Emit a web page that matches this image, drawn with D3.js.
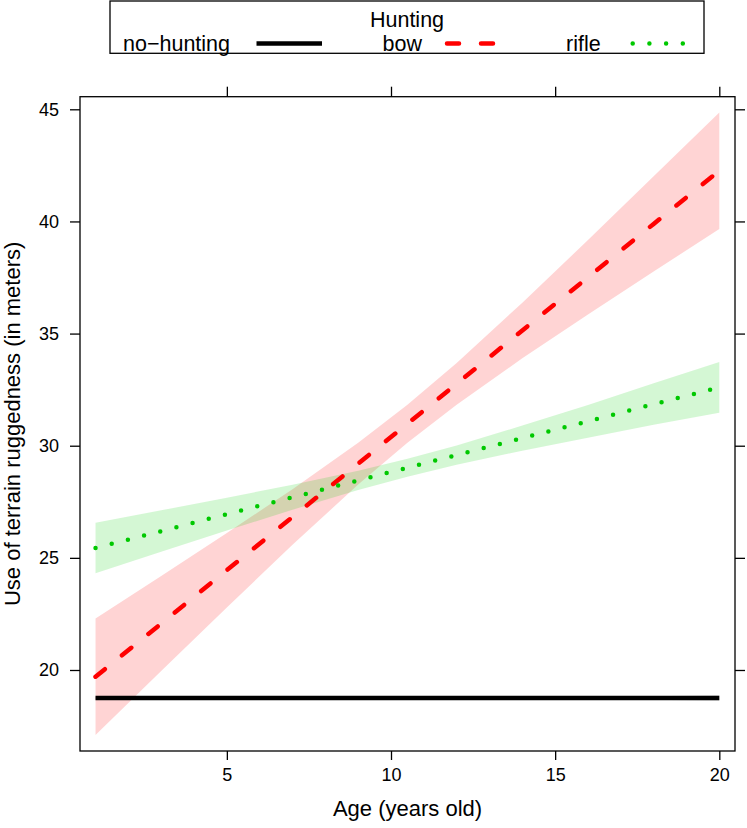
<!DOCTYPE html>
<html>
<head>
<meta charset="utf-8">
<script src="https://cdn.jsdelivr.net/npm/d3@7/dist/d3.min.js"></script>
<style>
  html, body { margin: 0; padding: 0; background: #fff; }
  svg { display: block; }
  text { font-family: "Liberation Sans", Arial, Helvetica, sans-serif; fill: #000; }
</style>
</head>
<body>
<svg id="chart" width="747" height="828"></svg>
<script>
// ---------------- data ----------------
const ages = [1, 3, 5, 7, 9, 10.5, 12, 14, 16, 18, 20];

const noHuntFit   = [18.75, 18.75, 18.75, 18.75, 18.75, 18.75, 18.75, 18.75, 18.75, 18.75, 18.75];
const noHuntLower = [18.70, 18.71, 18.72, 18.73, 18.73, 18.73, 18.73, 18.72, 18.70, 18.67, 18.63];
const noHuntUpper = [18.80, 18.79, 18.78, 18.77, 18.77, 18.77, 18.77, 18.78, 18.80, 18.83, 18.87];

const bowFit   = [19.70, 22.07, 24.45, 26.82, 29.20, 30.98, 32.76, 35.14, 37.51, 39.89, 42.26];
const bowLower = [17.10, 19.95, 22.79, 25.58, 28.27, 30.13, 31.83, 33.90, 35.85, 37.77, 39.66];
const bowUpper = [22.30, 24.19, 26.11, 28.06, 30.13, 31.83, 33.69, 36.38, 39.17, 42.01, 44.86];

const rifleFit   = [25.44, 26.19, 26.95, 27.70, 28.45, 29.02, 29.58, 30.34, 31.09, 31.85, 32.60];
const rifleLower = [24.31, 25.27, 26.22, 27.14, 28.02, 28.62, 29.15, 29.78, 30.36, 30.93, 31.47];
const rifleUpper = [26.57, 27.12, 27.68, 28.26, 28.88, 29.42, 30.01, 30.90, 31.82, 32.78, 33.73];

const xTicks = [5, 10, 15, 20];
const yTicks = [20, 25, 30, 35, 40, 45];

const legendTitle = "Hunting";
const groupLabels = ["no\u2212hunting", "bow", "rifle"];
const xTitle = "Age (years old)";
const yTitle = "Use of terrain ruggedness (in meters)";

// ---------------- layout ----------------
const svg = d3.select("#chart");
const L = 80, R = 735, T = 96.7, B = 751;
const x = d3.scaleLinear().domain([0.527, 20.478]).range([L, R]);
const y = d3.scaleLinear().domain([16.388, 45.562]).range([B, T]);

const styles = [
  { color: "#000000", band: "#808080", bandOp: 0.25, width: 4.5, dash: null, cap: "butt" },
  { color: "#FF0000", band: "#FF0000", bandOp: 0.17, width: 4.5, dash: "12,22", cap: "round" },
  { color: "#00C800", band: "#00CD00", bandOp: 0.17, width: 4.5, dash: "0,16.7", cap: "round" }
];

const series = [
  { fit: noHuntFit, lo: noHuntLower, hi: noHuntUpper },
  { fit: bowFit, lo: bowLower, hi: bowUpper },
  { fit: rifleFit, lo: rifleLower, hi: rifleUpper }
];

// bands
const area = d3.area().x((d) => x(d.a)).y0((d) => y(d.lo)).y1((d) => y(d.hi));
const line = d3.line().x((d) => x(d.a)).y((d) => y(d.v));

const gBands = svg.append("g");
series.forEach((s, i) => {
  const pts = ages.map((a, k) => ({ a, lo: s.lo[k], hi: s.hi[k] }));
  gBands.append("path").attr("d", area(pts))
    .attr("fill", styles[i].band).attr("fill-opacity", styles[i].bandOp).attr("stroke", "none");
});

const gLines = svg.append("g");
series.forEach((s, i) => {
  const pts = ages.map((a, k) => ({ a, v: s.fit[k] }));
  const p = gLines.append("path").attr("d", line(pts))
    .attr("fill", "none").attr("stroke", styles[i].color)
    .attr("stroke-width", styles[i].width).attr("stroke-linecap", styles[i].cap);
  if (styles[i].dash) p.attr("stroke-dasharray", styles[i].dash);
});

// frame
svg.append("rect").attr("x", L).attr("y", T).attr("width", R - L).attr("height", B - T)
  .attr("fill", "none").attr("stroke", "#000").attr("stroke-width", 1.3);

// axes
const tickFont = "18px";
const axB = svg.append("g").attr("transform", `translate(0,${B})`)
  .call(d3.axisBottom(x).tickValues(xTicks).tickSize(9).tickPadding(8).tickSizeOuter(0));
const axT = svg.append("g").attr("transform", `translate(0,${T})`)
  .call(d3.axisTop(x).tickValues(xTicks).tickSize(10).tickFormat("").tickSizeOuter(0));
const axLft = svg.append("g").attr("transform", `translate(${L},0)`)
  .call(d3.axisLeft(y).tickValues(yTicks).tickSize(10).tickPadding(11).tickSizeOuter(0));
const axRgt = svg.append("g").attr("transform", `translate(${R},0)`)
  .call(d3.axisRight(y).tickValues(yTicks).tickSize(10).tickFormat("").tickSizeOuter(0));
[axB, axT, axLft, axRgt].forEach((g) => {
  g.select(".domain").remove();
  g.selectAll(".tick line").attr("stroke", "#000").attr("stroke-width", 1.3);
  g.selectAll(".tick text").style("font-size", tickFont)
    .style("font-family", '"Liberation Sans", Arial, sans-serif').attr("fill", "#000");
});

// axis titles
svg.append("text").attr("x", (L + R) / 2).attr("y", 816).attr("text-anchor", "middle")
  .style("font-size", "22px").text(xTitle);
svg.append("text").attr("transform", `translate(20,${(T + B) / 2}) rotate(-90)`)
  .attr("text-anchor", "middle").style("font-size", "22px").text(yTitle);

// legend
const lg = svg.append("g");
lg.append("rect").attr("x", 110).attr("y", 1).attr("width", 594).attr("height", 52.3)
  .attr("fill", "#fff").attr("stroke", "#000").attr("stroke-width", 1.3);
lg.append("text").attr("x", 407).attr("y", 27).attr("text-anchor", "middle")
  .style("font-size", "21.5px").text(legendTitle);
const textX = [123, 382.5, 566];
const keyX = [[256.5, 322], [445, 512], [630.7, 692]];
const keyY = 43.5;
groupLabels.forEach((lab, i) => {
  lg.append("text").attr("x", textX[i]).attr("y", 51).style("font-size", "21.5px").text(lab);
  const ln = lg.append("line").attr("x1", keyX[i][0] + (styles[i].cap === "round" ? 2 : 0))
    .attr("x2", keyX[i][1]).attr("y1", keyY).attr("y2", keyY)
    .attr("stroke", styles[i].color).attr("stroke-width", styles[i].width)
    .attr("stroke-linecap", styles[i].cap);
  if (styles[i].dash) ln.attr("stroke-dasharray", styles[i].dash);
});
</script>
</body>
</html>
